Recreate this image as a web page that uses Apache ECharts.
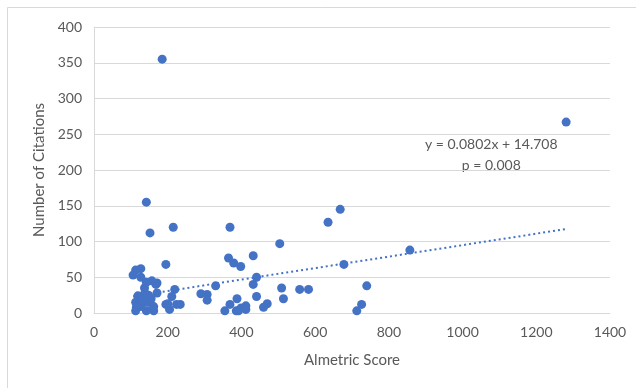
<!DOCTYPE html>
<html>
<head>
<meta charset="utf-8">
<script src="https://cdn.jsdelivr.net/npm/echarts@6/dist/echarts.min.js"></script>
<style>
  html, body { margin: 0; padding: 0; background: #fff; }
  #chart { width: 641px; height: 388px; }
</style>
</head>
<body>
<div id="chart"></div>
<script>
'use strict';
// altmetric score (x) and citations (y)
var altmetric = [185, 1281, 142, 152, 215, 369, 635, 668, 504, 857, 678, 740, 726, 713, 582, 558,
    509, 514, 470, 460, 441, 441, 432, 432, 398, 379, 365, 388, 369, 355, 386, 399, 412, 412, 392,
    330, 307, 307, 290, 234, 224, 219, 211, 195, 205, 195, 171, 171, 168, 157, 127, 113, 106, 127,
    137, 142, 119, 133, 113, 152, 162, 162, 142, 113, 127, 145, 120, 155, 132, 115, 148, 200, 160, 138];
var citations = [355, 267, 155, 112, 120, 120, 127, 145, 97, 88, 68, 38, 12, 3, 33, 33,
    35, 20, 13, 8, 23, 50, 80, 40, 65, 70, 77, 20, 12, 3, 3, 7, 10, 5, 3,
    38, 26, 18, 27, 12, 12, 33, 23, 12, 5, 68, 28, 42, 40, 45, 62, 60, 53, 50,
    35, 43, 24, 24, 15, 17, 9, 3, 3, 3, 9, 15, 10, 20, 18, 8, 25, 13, 8, 28];
var xTicks = [0, 200, 400, 600, 800, 1000, 1200, 1400];
var yTicks = [0, 50, 100, 150, 200, 250, 300, 350, 400];
var slope = 0.0802;
var intercept = 14.708;

var chart = echarts.init(document.getElementById('chart'));
var font = 'Lato, "Open Sans", sans-serif';
var textColor = '#595959';

var points = altmetric.map(function (x, i) {
    return [x, citations[i]];
});
var minX = Math.min.apply(null, altmetric);
var maxX = Math.max.apply(null, altmetric);
var trend = [[minX, slope * minX + intercept], [maxX, slope * maxX + intercept]];

var option = {
    animation: false,
    backgroundColor: '#fff',
    grid: { left: 94, right: 31, top: 27, bottom: 75 },
    xAxis: {
        type: 'value',
        min: xTicks[0],
        max: xTicks[xTicks.length - 1],
        interval: 200,
        name: 'Almetric Score',
        nameLocation: 'middle',
        nameGap: 40,
        nameTextStyle: { color: textColor, fontSize: 15, fontFamily: font },
        axisLine: { show: true, lineStyle: { color: '#D9D9D9', width: 1 } },
        axisTick: { show: false },
        axisLabel: {
            color: textColor, fontSize: 14, fontFamily: font, margin: 12,
            formatter: function (v) { return String(v); }
        },
        splitLine: { show: false }
    },
    yAxis: {
        type: 'value',
        min: yTicks[0],
        max: yTicks[yTicks.length - 1],
        interval: 50,
        name: 'Number of Citations',
        nameLocation: 'middle',
        nameGap: 46,
        nameTextStyle: { color: textColor, fontSize: 15, fontFamily: font },
        axisLine: { show: true, lineStyle: { color: '#D9D9D9', width: 1 } },
        axisTick: { show: false },
        axisLabel: { color: textColor, fontSize: 14, fontFamily: font, margin: 12 },
        splitLine: { show: true, lineStyle: { color: '#D9D9D9', width: 1 } }
    },
    series: [{
        name: 'Citations',
        type: 'scatter',
        symbol: 'circle',
        symbolSize: 9,
        itemStyle: { color: '#4472C4', opacity: 1 },
        data: points,
        z: 3
    }, {
        name: 'Trend',
        type: 'line',
        showSymbol: false,
        symbol: 'none',
        lineStyle: { color: '#4472C4', width: 2, type: [2, 3] },
        data: trend,
        z: 2
    }],
    graphic: [{
        type: 'line',
        shape: { x1: 7.5, y1: 7.5, x2: 7.5, y2: 388 },
        style: { stroke: '#D9D9D9', lineWidth: 1 }
    }, {
        type: 'line',
        shape: { x1: 7.5, y1: 7.5, x2: 636, y2: 7.5 },
        style: { stroke: '#D9D9D9', lineWidth: 1 }
    }, {
        type: 'text',
        left: 425,
        top: 134,
        style: {
            text: 'y = 0.0802x + 14.708\np = 0.008',
            fill: textColor,
            font: '14px ' + font,
            align: 'center',
            lineHeight: 21,
            textAlign: 'center'
        }
    }]
};
chart.setOption(option);
</script>
</body>
</html>
